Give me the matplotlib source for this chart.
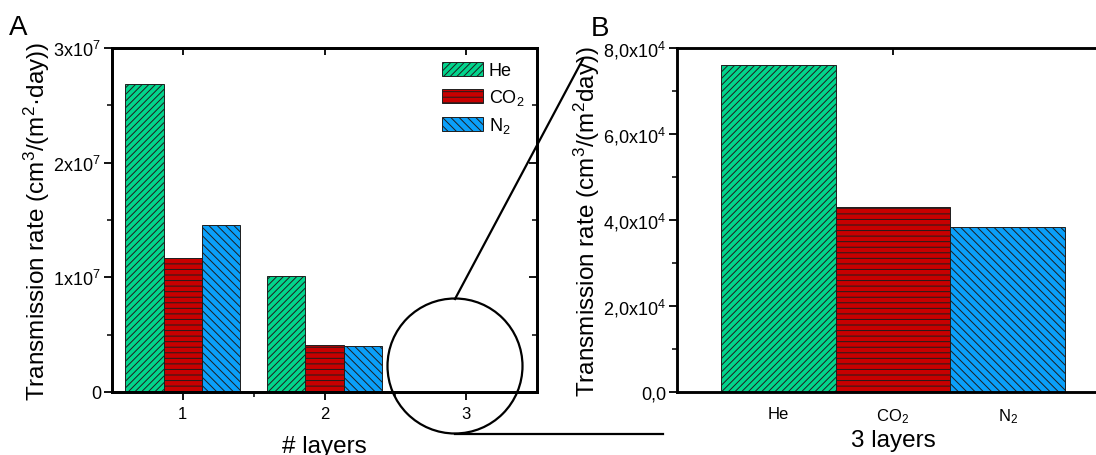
import matplotlib
matplotlib.use('Agg')
import matplotlib.pyplot as plt
from matplotlib.patches import Ellipse
from matplotlib.lines import Line2D

plt.rcParams['font.family'] = ['Liberation Sans', 'DejaVu Sans']
plt.rcParams['mathtext.fontset'] = 'custom'
plt.rcParams['mathtext.rm'] = 'Liberation Sans'
plt.rcParams['mathtext.it'] = 'Liberation Sans:italic'
plt.rcParams['hatch.linewidth'] = 0.7

# Daten
gases = ['He', 'CO$_2$', 'N$_2$']
layers = [1, 2, 3]
he_a = [2.683e7, 1.014e7, 0]
co2_a = [1.168e7, 0.410e7, 0]
n2_a = [1.459e7, 0.398e7, 0]
a_yticks = [0, 1e7, 2e7, 3e7]
a_yticklabels = ['0', '1x10$^7$', '2x10$^7$', '3x10$^7$']

b_values = [7.60e4, 4.31e4, 3.83e4]
b_yticks = [0, 2e4, 4e4, 6e4, 8e4]
b_yticklabels = ['0,0', '2,0x10$^4$', '4,0x10$^4$', '6,0x10$^4$', '8,0x10$^4$']

colors = ['#02d48c', '#c80000', '#0aa0fa']
hatches = ['/////', '---', '\\\\\\\\']
edge = '#1e1e1e'
spine_lw = 1.8

W, H = 1096, 456
fig = plt.figure(figsize=(W / 100, H / 100), dpi=100)

axA = fig.add_axes([112 / W, 63 / H, 425 / W, 344 / H])
axB = fig.add_axes([677 / W, 63 / H, 432 / W, 344 / H])


def style_axes(ax):
    for s in ax.spines.values():
        s.set_linewidth(spine_lw)
    ax.tick_params(axis='both', which='major', direction='out', length=6, width=1.3)
    ax.tick_params(axis='both', which='minor', direction='out', length=3.5, width=1.1)


# Panel A
width = 0.27
series = [he_a, co2_a, n2_a]
for i, vals in enumerate(series):
    xs = [x + (i - 1) * width for x in layers[:2]]
    axA.bar(xs, vals[:2], width=width, color=colors[i], edgecolor=edge,
            linewidth=0.7, hatch=hatches[i], label=gases[i], zorder=2)
axA.set_xlim(0.5, 3.5)
axA.set_ylim(0, 3e7)
axA.set_xticks(layers)
axA.set_xticks([1.5, 2.5], minor=True)
axA.set_yticks(a_yticks)
axA.set_yticklabels(a_yticklabels)
axA.set_yticks([0.5e7, 1.5e7, 2.5e7], minor=True)
style_axes(axA)
axA.tick_params(axis='x', labelsize=12, pad=4)
axA.tick_params(axis='y', labelsize=13, pad=2)
axA.set_xlabel('# layers', fontsize=17.5, labelpad=10)
axA.set_ylabel('Transmission rate (cm$^3$/(m$^2$·day))', fontsize=17.5, labelpad=1)

# Gegenseite (Ticks nach innen)
axAr = axA.twinx()
axAr.set_ylim(axA.get_ylim())
axAr.set_yticks(a_yticks)
axAr.set_yticks([0.5e7, 1.5e7, 2.5e7], minor=True)
axAr.tick_params(axis='y', which='major', direction='in', length=6, width=1.3, labelright=False)
axAr.tick_params(axis='y', which='minor', direction='in', length=3.5, width=1.1)
axAt = axA.twiny()
axAt.set_xlim(axA.get_xlim())
axAt.set_xticks(layers)
axAt.tick_params(axis='x', direction='in', length=5, width=1.3, labeltop=False)
for a in (axAr, axAt):
    for s in a.spines.values():
        s.set_linewidth(spine_lw)

leg = axA.legend(loc='upper left', bbox_to_anchor=(0.776, 0.96), frameon=False,
                 fontsize=13, handlelength=2.3, handleheight=0.85,
                 handletextpad=0.3, labelspacing=0.45, borderpad=0, borderaxespad=0)

# Panel B
bx = [1, 2, 3]
for i in range(3):
    axB.bar(bx[i], b_values[i], width=1.0, color=colors[i], edgecolor=edge,
            linewidth=0.7, hatch=hatches[i], zorder=2)
axB.set_xlim(0.12, 3.88)
axB.set_ylim(0, 8e4)
axB.set_xticks(bx)
axB.set_xticklabels(gases)
axB.set_xticks([2], minor=True)
axB.set_yticks(b_yticks)
axB.set_yticklabels(b_yticklabels)
axB.set_yticks([1e4, 3e4, 5e4, 7e4], minor=True)
style_axes(axB)
axB.tick_params(axis='x', which='major', length=0, labelsize=12, pad=10)
axB.tick_params(axis='x', which='minor', length=6, width=1.3)
axB.tick_params(axis='y', labelsize=13, pad=2)
axB.set_xlabel('3 layers', fontsize=17.5, labelpad=3)
axB.set_ylabel('Transmission rate (cm$^3$/(m$^2$day))', fontsize=17.5, labelpad=1)
axBt = axB.twiny()
axBt.set_xlim(axB.get_xlim())
axBt.set_xticks([2])
axBt.tick_params(axis='x', direction='in', length=5, width=1.3, labeltop=False)
for s in axBt.spines.values():
    s.set_linewidth(spine_lw)

# Panel-Buchstaben
fig.text(9 / W, 1 - 35 / H, 'A', fontsize=20)
fig.text(591 / W, 1 - 36 / H, 'B', fontsize=20)

# Lupe: Kreis um "3" und Verbindungslinien nach B
circ = Ellipse((455 / W, 1 - 367 / H), 135 / W, 135 / H, transform=fig.transFigure,
               fill=False, edgecolor='black', linewidth=1.6, zorder=10)
fig.add_artist(circ)
fig.add_artist(Line2D([455 / W, 583 / W], [1 - 300 / H, 1 - 60 / H],
                      transform=fig.transFigure, color='black', linewidth=1.6))
fig.add_artist(Line2D([455 / W, 663 / W], [1 - 435 / H, 1 - 435 / H],
                      transform=fig.transFigure, color='black', linewidth=1.6))

fig.savefig('out.png', dpi=100)
plt.close(fig)
